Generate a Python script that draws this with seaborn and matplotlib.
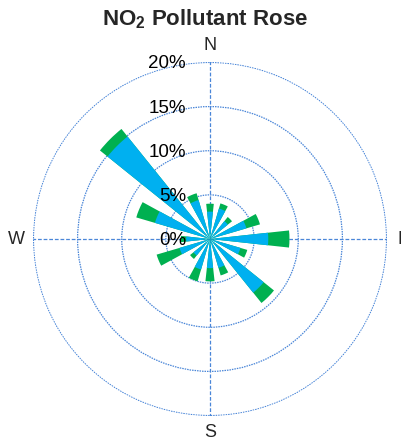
import numpy as np
import pandas as pd
import matplotlib
matplotlib.use("Agg")
import matplotlib.pyplot as plt
import matplotlib.transforms as mtransforms
import seaborn as sns

# Datos de la rosa de contaminante (porcentaje de horas por dirección)
direcciones = ['N', 'NNE', 'NE', 'ENE', 'E', 'ESE', 'SE', 'SSE',
               'S', 'SSW', 'SW', 'WSW', 'W', 'WNW', 'NW', 'NNW']
angulos_deg = [0, 22.5, 45, 67.5, 90, 112.5, 135, 157.5,
               180, 202.5, 225, 247.5, 270, 292.5, 315, 337.5]
bin_azul = [3.1, 3.6, 2.6, 4.3, 6.6, 3.6, 7.8, 3.4,
            3.3, 3.6, 2.4, 3.6, 2.7, 6.5, 14.9, 4.6]
bin_verde = [0.9, 0.6, 0.6, 1.6, 2.4, 0.8, 1.5, 0.9,
             1.5, 1.4, 0.5, 2.7, 0.6, 2.2, 1.1, 0.8]
etiquetas_r = [0, 5, 10, 15, 20]
etiquetas_cardinales = ['N', 'E', 'S', 'W']

color_azul = '#00B0F0'
color_verde = '#00B050'
color_rejilla = '#4A86D8'

df = pd.DataFrame({'direccion': direcciones,
                   'angulo': np.deg2rad(angulos_deg),
                   'azul': bin_azul,
                   'verde': bin_verde})
df['total'] = df['azul'] + df['verde']

sns.set_style('white')
plt.rcParams['font.family'] = ['Liberation Sans', 'DejaVu Sans']
plt.rcParams['mathtext.fontset'] = 'custom'
plt.rcParams['mathtext.rm'] = 'Liberation Sans'
plt.rcParams['mathtext.bf'] = 'Liberation Sans:bold'

fig = plt.figure(figsize=(4.02, 4.42), dpi=100)
ax = fig.add_axes([33 / 402, 26 / 442, 354 / 402, 354 / 442], projection='polar')
ax.set_theta_zero_location('N')
ax.set_theta_direction(-1)

# Barras apiladas: primero el total (verde) y encima el primer rango (azul)
sns.barplot(data=df, x='angulo', y='total', native_scale=True, orient='x',
            color=color_verde, width=0.55, errorbar=None, linewidth=0,
            saturation=1, ax=ax)
sns.barplot(data=df, x='angulo', y='azul', native_scale=True, orient='x',
            color=color_azul, width=0.55, errorbar=None, linewidth=0,
            saturation=1, ax=ax)

ax.set_xlabel('')
ax.set_ylabel('')
ax.set_ylim(0, 20.05)
ax.set_thetagrids([0, 90, 180, 270], etiquetas_cardinales, fontsize=13)
ax.tick_params(axis='x', pad=1.5)
ax.set_rgrids([5, 10, 15, 20], labels=['', '', '', ''])
ax.xaxis.grid(True, color=color_rejilla, linestyle=(0, (3, 1.5)), linewidth=0.9)
ax.yaxis.grid(True, color=color_rejilla, linestyle=(0, (1.2, 0.8)), linewidth=0.9)
ax.spines['polar'].set_visible(False)
ax.set_axisbelow(True)

# Etiquetas de porcentaje a la izquierda del eje norte
trans = mtransforms.offset_copy(ax.transData, fig=fig, x=-24, y=-1.5, units='dots')
for r in etiquetas_r:
    ax.text(0, r, f'{r}%', transform=trans, ha='right', va='center',
            fontsize=13.5, color='black', zorder=5)

fig.text(205 / 402, 1 - 19 / 442, r'NO$_\mathbf{2}$ Pollutant Rose',
         ha='center', va='center', fontsize=16, fontweight='bold')

fig.savefig('out.png', dpi=100)
